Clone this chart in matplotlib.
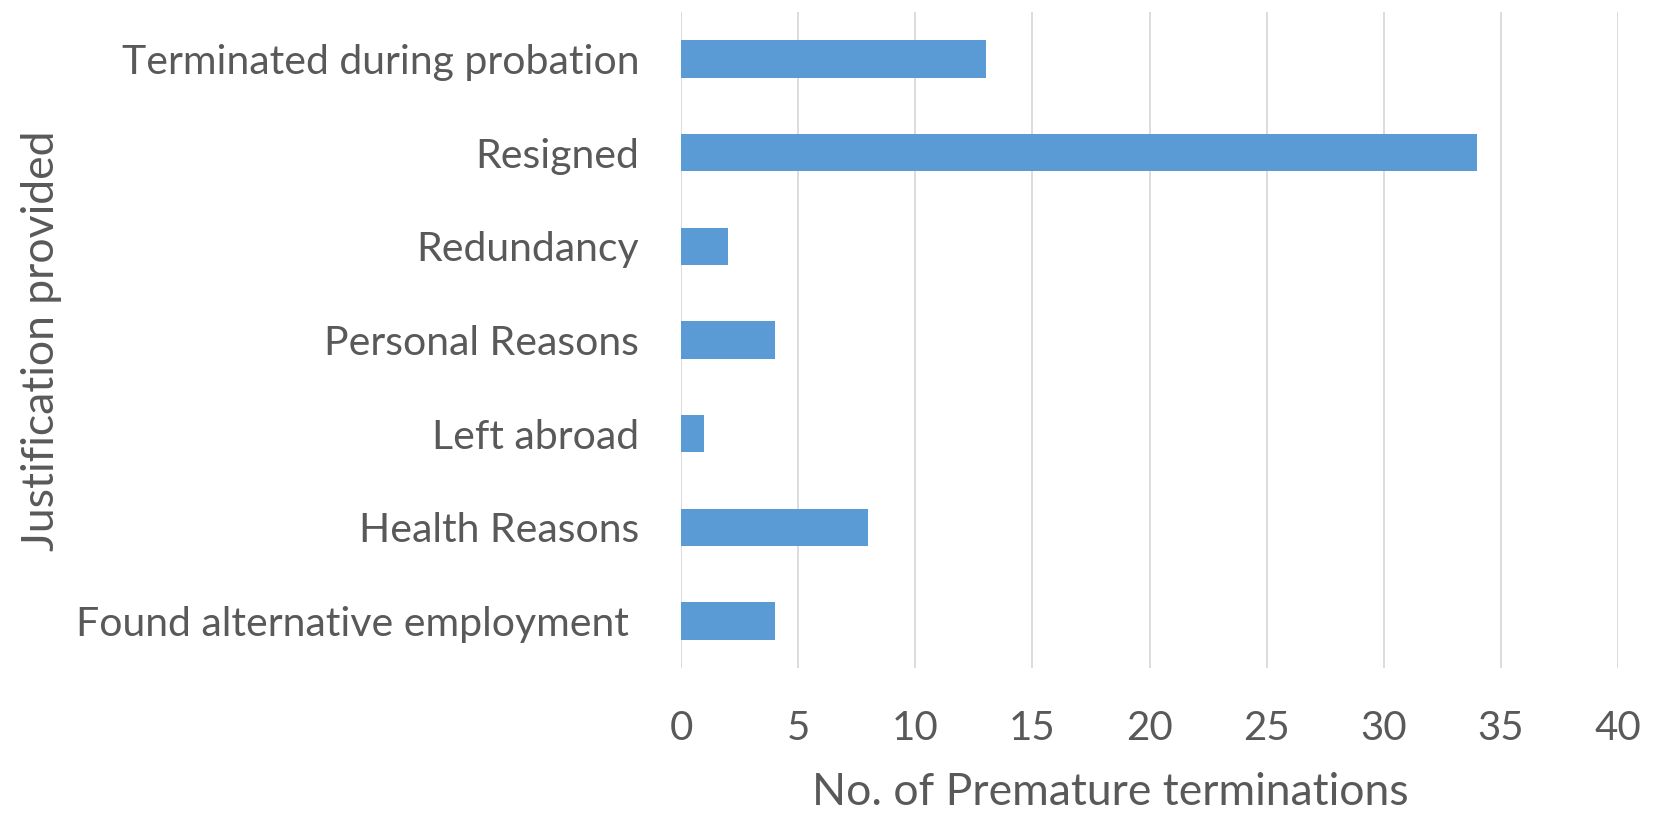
import matplotlib.pyplot as plt

# данные с графика
reasons = ["Found alternative employment ", "Health Reasons", "Left abroad",
           "Personal Reasons", "Redundancy", "Resigned", "Terminated during probation"]
counts = [4, 8, 1, 4, 2, 34, 13]
x_ticks = [0, 5, 10, 15, 20, 25, 30, 35, 40]

plt.rcParams['font.family'] = ['Lato', 'DejaVu Sans']
text_col = '#595959'

W, H = 1657, 814
fig = plt.figure(figsize=(W / 100, H / 100), dpi=100)
ax = fig.add_axes([681 / W, 1 - 668 / H, (1618 - 681) / W, (668 - 12) / H])

ax.barh(range(len(reasons)), counts, height=0.4, color='#5B9BD5', zorder=3)

ax.set_xlim(0, 40)
ax.set_ylim(-0.5, len(reasons) - 0.5)
ax.set_xticks(x_ticks)
ax.set_yticks(range(len(reasons)))
ax.set_yticklabels(reasons)
ax.grid(axis='x', color='#D9D9D9', linewidth=1.3, zorder=0)
for s in ax.spines.values():
    s.set_visible(False)
ax.tick_params(length=0, colors=text_col, labelsize=29)
ax.tick_params(axis='y', labelsize=29.5, pad=30)
ax.tick_params(axis='x', pad=30)

ax.set_xlabel('No. of Premature terminations', fontsize=32, color=text_col)
ax.xaxis.set_label_coords(1110 / W, 1 - 772 / H, transform=fig.transFigure)
ax.set_ylabel('Justification provided', fontsize=32, color=text_col)
ax.yaxis.set_label_coords(62 / W, 1 - 341 / H, transform=fig.transFigure)

fig.savefig('out.png')
